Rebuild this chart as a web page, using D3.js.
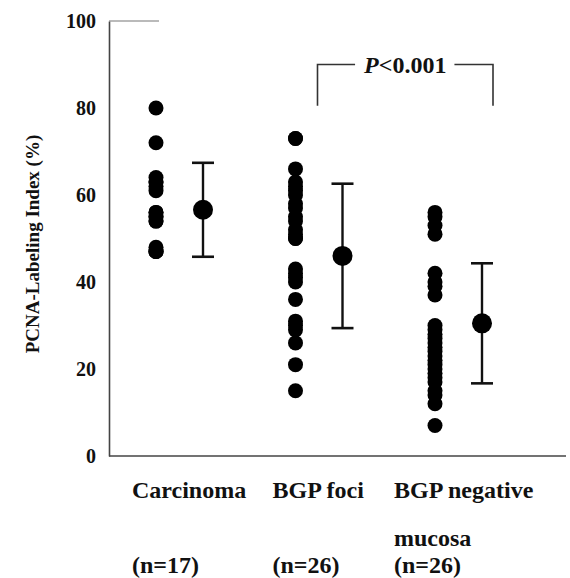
<!DOCTYPE html>
<html>
<head>
<meta charset="utf-8">
<script src="https://cdn.jsdelivr.net/npm/d3@7"></script>
<style>
    body { margin: 0; background: #fff; }
    text { font-family: "Liberation Serif", "Times New Roman", "DejaVu Serif", serif; font-weight: bold; fill: #111; }
</style>
</head>
<body>
<script>
// groups on the x axis
const groups = ["Carcinoma", "BGP foci", "BGP negative mucosa"];
const labelLines = [["Carcinoma"], ["BGP foci"], ["BGP negative", "mucosa"]];
const counts = ["(n=17)", "(n=26)", "(n=26)"];

// individual labeling index values (%)
const carcinoma = [80, 72, 64, 63, 63, 62, 61, 56, 56, 55, 55, 54, 54, 48, 47, 47, 47];
const bgpFoci = [73, 73, 66, 63, 62, 61, 60, 58, 57, 55, 54, 52, 51, 50, 50, 43, 42, 41, 40, 36, 31, 30, 29, 26, 21, 15];
const bgpNegative = [56, 55, 53, 51, 42, 40, 39, 37, 30, 29, 28, 27, 26, 25, 24, 23, 22, 21, 20, 19, 18, 17, 15, 14, 12, 7];

// mean and SD per group
const means = [56.6, 46, 30.5];
const sds = [10.8, 16.6, 13.8];

const yTicks = [0, 20, 40, 60, 80, 100];
const yTitle = "PCNA-Labeling Index (%)";
const pLabel = ["P", "<0.001"];

const width = 570;
const height = 578;
const axisX = 109;
let svg = d3.select("body").append("svg").attr("width", width).attr("height", height);

let y = d3.scaleLinear().domain([0, 100]).range([456, 21]);
let x = d3.scalePoint().domain(groups).range([156, 435]);
const meanShift = 47;
const capHalf = 11;

let allData = [carcinoma, bgpFoci, bgpNegative];

// y axis, no tick marks
let yAxis = svg.append("g")
    .attr("transform", `translate(${axisX}, 0)`)
    .call(d3.axisLeft(y).tickValues(yTicks).tickSize(0).tickSizeOuter(0).tickPadding(13));
yAxis.select(".domain").attr("stroke", "#444").attr("stroke-width", 1.6);
yAxis.selectAll("text")
    .attr("font-family", "Liberation Serif")
    .attr("font-weight", "bold")
    .attr("font-size", 20)
    .attr("fill", "#111");

// x axis line
svg.append("line")
    .attr("x1", axisX).attr("x2", width - 4)
    .attr("y1", y(0)).attr("y2", y(0))
    .attr("stroke", "#444").attr("stroke-width", 1.6);

// short top line at 100
svg.append("line")
    .attr("x1", axisX).attr("x2", axisX + 50)
    .attr("y1", y(100)).attr("y2", y(100))
    .attr("stroke", "#777").attr("stroke-width", 1.2);

// y title
svg.append("text")
    .attr("transform", `translate(39, 244) rotate(-90)`)
    .attr("text-anchor", "middle")
    .attr("font-size", 19)
    .text(yTitle);

// dots
allData.forEach((vals, i) => {
    svg.selectAll(`.dot-${i}`)
        .data(vals)
        .enter()
        .append("circle")
        .attr("class", `dot-${i}`)
        .attr("cx", x(groups[i]))
        .attr("cy", d => y(d))
        .attr("r", 7.5)
        .attr("fill", "#000");
});

// mean +- SD
let bars = svg.selectAll(".bar")
    .data(groups)
    .enter()
    .append("g")
    .attr("class", "bar")
    .attr("transform", d => `translate(${x(d) + meanShift}, 0)`);
bars.append("line")
    .attr("y1", (d, i) => y(means[i] + sds[i]))
    .attr("y2", (d, i) => y(means[i] - sds[i]))
    .attr("stroke", "#111").attr("stroke-width", 2.4);
bars.append("line")
    .attr("x1", -capHalf).attr("x2", capHalf)
    .attr("y1", (d, i) => y(means[i] + sds[i]))
    .attr("y2", (d, i) => y(means[i] + sds[i]))
    .attr("stroke", "#111").attr("stroke-width", 2.6);
bars.append("line")
    .attr("x1", -capHalf).attr("x2", capHalf)
    .attr("y1", (d, i) => y(means[i] - sds[i]))
    .attr("y2", (d, i) => y(means[i] - sds[i]))
    .attr("stroke", "#111").attr("stroke-width", 2.6);
bars.append("circle")
    .attr("cy", (d, i) => y(means[i]))
    .attr("r", 10)
    .attr("fill", "#000");

// category labels
const labelShift = [-24, -23, -41];
groups.forEach((g, i) => {
    let t = svg.append("text")
        .attr("x", x(g) + labelShift[i])
        .attr("y", 498)
        .attr("font-size", 24);
    labelLines[i].forEach((line, k) => {
        t.append("tspan").attr("x", x(g) + labelShift[i]).attr("dy", k == 0 ? 0 : 48).text(line);
    });
    svg.append("text")
        .attr("x", x(g) + labelShift[i])
        .attr("y", 573)
        .attr("font-size", 24)
        .text(counts[i]);
});

// significance bracket between BGP foci and BGP negative mucosa
let bx1 = x(groups[1]) + 22;
let bx2 = x(groups[2]) + 58;
let bTop = y(90);
let bLeg = y(80.5);
let pText = svg.append("text")
    .attr("x", (bx1 + bx2) / 2)
    .attr("y", bTop + 8)
    .attr("text-anchor", "middle")
    .attr("font-size", 24);
pText.append("tspan").attr("font-style", "italic").text(pLabel[0]);
pText.append("tspan").text(pLabel[1]);
let box = pText.node().getBBox();
let gap = 8;
svg.append("path")
    .attr("d", `M${bx1},${bLeg}V${bTop}H${box.x - gap}`)
    .attr("fill", "none").attr("stroke", "#333").attr("stroke-width", 1.6);
svg.append("path")
    .attr("d", `M${box.x + box.width + gap},${bTop}H${bx2}V${bLeg}`)
    .attr("fill", "none").attr("stroke", "#333").attr("stroke-width", 1.6);
</script>
</body>
</html>
